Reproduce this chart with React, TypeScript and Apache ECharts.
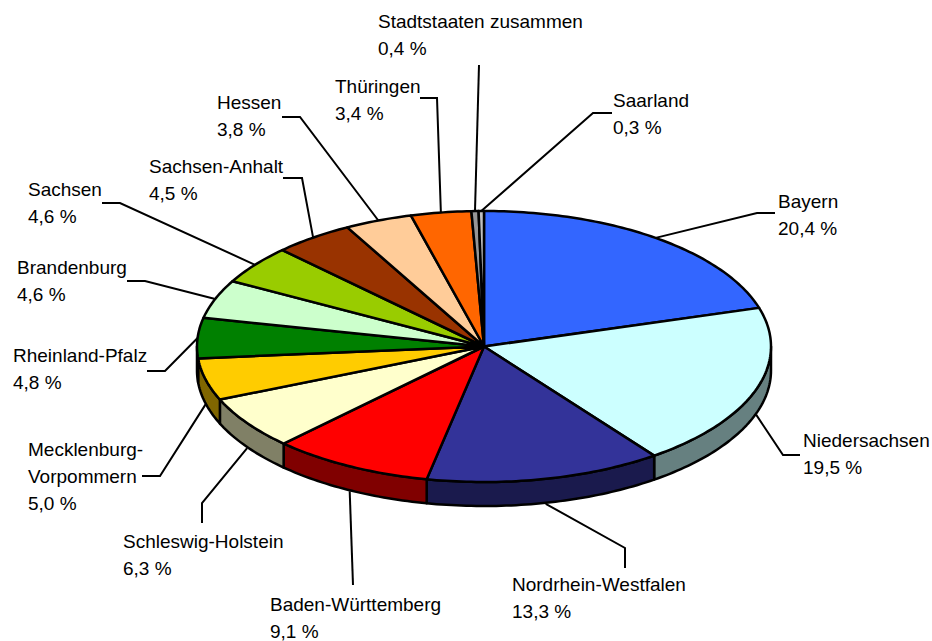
import React, { useEffect, useRef } from 'react';
import * as echarts from 'echarts';

// ---- data ----
const CATEGORIES = [
  'Bayern',
  'Niedersachsen',
  'Nordrhein-Westfalen',
  'Baden-Württemberg',
  'Schleswig-Holstein',
  'Mecklenburg-\nVorpommern',
  'Rheinland-Pfalz',
  'Brandenburg',
  'Sachsen',
  'Sachsen-Anhalt',
  'Hessen',
  'Thüringen',
  'Stadtstaaten zusammen',
  'Saarland',
];
const VALUES = [20.4, 19.5, 13.3, 9.1, 6.3, 5.0, 4.8, 4.6, 4.6, 4.5, 3.8, 3.4, 0.4, 0.3];
const COLORS = [
  '#3366FF', '#CCFFFF', '#333399', '#FF0000', '#FFFFCC', '#FFCC00', '#008000',
  '#CCFFCC', '#99CC00', '#993300', '#FFCC99', '#FF6600', '#969696', '#C0C0C0',
];

// ---- layout (pixels): label left, label top, elbow x, elbow y, end x, end y ----
const LABEL_LAYOUT: number[][] = [
  [778, 187.5, 757, 213, 775, 213],
  [803, 426.5, 783, 455, 800, 455],
  [512, 570.5, 625, 548, 625, 568],
  [270, 590.5, 353, 585, 353, 585],
  [123, 527.5, 202, 503, 202, 523],
  [28, 435.5, 160, 476, 142, 476],
  [13, 341.5, 165, 371, 147, 371],
  [17, 253.5, 145, 281, 127, 281],
  [28, 175.5, 120, 203, 102, 203],
  [149, 152.5, 302, 178, 283, 178],
  [217, 88.5, 300, 117, 282, 117],
  [335, 72.5, 437, 98, 420, 98],
  [378, 7.5, 479, 65, 479, 65],
  [613, 86.5, 593, 113, 612, 113],
];

const DEPTH = 24;
const FONT = "'Liberation Sans', Arial, sans-serif";

function darker(hex: string, f = 0.5) {
  const n = parseInt(hex.slice(1), 16);
  const r = Math.round(((n >> 16) & 255) * f);
  const g = Math.round(((n >> 8) & 255) * f);
  const b = Math.round((n & 255) * f);
  return `rgb(${r},${g},${b})`;
}

function fmt(v: number) {
  return v.toFixed(1).replace('.', ',') + ' %';
}

export default function App() {
  const ref = useRef<HTMLDivElement>(null);
  useEffect(() => {
    document.body.style.margin = '0';
    const chart = echarts.init(ref.current!, null, { renderer: 'svg' });
    const total = VALUES.reduce((a, b) => a + b, 0);
    const starts: number[] = [];
    let acc = 0;
    VALUES.forEach((v) => {
      starts.push((acc / total) * 360);
      acc += v;
    });
    const pt = (api: any, deg: number) => {
      const t = (deg * Math.PI) / 180;
      return api.coord([Math.sin(t), Math.cos(t)]);
    };
    const arc = (api: any, a0: number, a1: number, dy = 0) => {
      const n = Math.max(2, Math.ceil(a1 - a0));
      const out: number[][] = [];
      for (let k = 0; k <= n; k++) {
        const p = pt(api, a0 + ((a1 - a0) * k) / n);
        out.push([p[0], p[1] + dy]);
      }
      return out;
    };
    const data = VALUES.map((v) => [0, 0, v]);
    const range = (api: any, i: number) => {
      const a0 = starts[i];
      const a1 = a0 + (api.value(2) / total) * 360;
      return [a0, a1];
    };

    chart.setOption({
      animation: false,
      grid: { left: 197, top: 211, width: 574, height: 271 },
      xAxis: { type: 'value', min: -1, max: 1, show: false },
      yAxis: { type: 'value', min: -1, max: 1, show: false },
      series: [
        {
          type: 'custom',
          coordinateSystem: 'cartesian2d',
          data,
          silent: true,
          renderItem: (params: any, api: any) => {
            const i = params.dataIndex;
            const [a0, a1] = range(api, i);
            const s = Math.max(a0, 90);
            const e = Math.min(a1, 270);
            if (s >= e) return { type: 'group', children: [] };
            const top = arc(api, s, e);
            const bot = arc(api, s, e, DEPTH).reverse();
            return {
              type: 'polygon',
              shape: { points: top.concat(bot) },
              style: { fill: darker(COLORS[i]), stroke: '#000', lineWidth: 2.5, lineJoin: 'round' },
            };
          },
        },
        {
          type: 'custom',
          coordinateSystem: 'cartesian2d',
          data,
          silent: true,
          renderItem: (params: any, api: any) => {
            const i = params.dataIndex;
            const [a0, a1] = range(api, i);
            const c = api.coord([0, 0]);
            const pts = [c].concat(arc(api, a0, a1));
            return {
              type: 'polygon',
              shape: { points: pts },
              style: { fill: COLORS[i], stroke: '#000', lineWidth: 2.5, lineJoin: 'round' },
            };
          },
        },
        {
          type: 'custom',
          coordinateSystem: 'cartesian2d',
          data,
          silent: true,
          renderItem: (params: any, api: any) => {
            const i = params.dataIndex;
            const [a0, a1] = range(api, i);
            const mid = (a0 + a1) / 2;
            const p = pt(api, mid);
            const front = mid > 90 && mid < 270;
            const start = [p[0], p[1] + (front ? DEPTH + 1 : 0)];
            const L = LABEL_LAYOUT[i];
            return {
              type: 'group',
              children: [
                {
                  type: 'polyline',
                  shape: { points: [start, [L[2], L[3]], [L[4], L[5]]] },
                  style: { stroke: '#000', lineWidth: 2, fill: null },
                },
                {
                  type: 'text',
                  x: L[0],
                  y: L[1],
                  style: {
                    text: CATEGORIES[i] + '\n' + fmt(api.value(2)),
                    fontFamily: FONT,
                    fontSize: 19,
                    lineHeight: 27,
                    fill: '#000',
                    align: 'left',
                    verticalAlign: 'top',
                  },
                },
              ],
            };
          },
        },
      ],
    });
    return () => chart.dispose();
  }, []);
  return (
    <div
      ref={ref}
      style={{ position: 'fixed', left: 0, top: 0, width: 932, height: 641, background: '#fff' }}
    />
  );
}
